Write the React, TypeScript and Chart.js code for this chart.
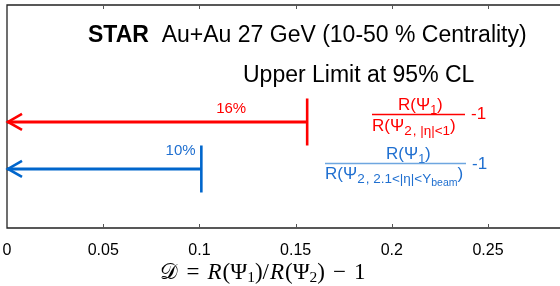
import React, { useEffect, useRef } from 'react';
import { Chart, registerables } from 'chart.js';

Chart.register(...registerables);

// ---- data ----
const xTicks = [0, 0.05, 0.1, 0.15, 0.2, 0.25];
const xMin = 0;
const xMax = 0.2874;
const seriesNames = ['R(Ψ1)/R(Ψ2, |η|<1) -1', 'R(Ψ1)/R(Ψ2, 2.1<|η|<Ybeam) -1'];
const upperLimits = [0.156, 0.101];
const limitLabels = ['16%', '10%'];
const rows = [2, 1];
const lineColors = ['#ff0000', '#0066cc'];
const textColors = ['#ff0000', '#1f6fd0'];
const titleBold = 'STAR';
const titleRest = 'Au+Au 27 GeV (10-50 % Centrality)';
const subtitle = 'Upper Limit at 95% CL';

const SANS = '"Liberation Sans", Arial, Helvetica, sans-serif';
const SERIF = '"Liberation Serif", "Times New Roman", serif';

type Part = { t: string; size: number; dy?: number; italic?: boolean; bold?: boolean; family?: string; gap?: number };

function drawRich(ctx: CanvasRenderingContext2D, x: number, y: number, parts: Part[], draw = true): number {
  let cx = x;
  for (const p of parts) {
    ctx.font = `${p.italic ? 'italic ' : ''}${p.bold ? 'bold ' : ''}${p.size}px ${p.family || SANS}`;
    if (draw) ctx.fillText(p.t, cx, y + (p.dy || 0));
    cx += ctx.measureText(p.t).width + (p.gap || 0);
  }
  return cx - x;
}

const decorPlugin = {
  id: 'decor',
  afterDatasetsDraw(chart: any) {
    const { ctx, chartArea } = chart;
    const xs = chart.scales.x;
    const ys = chart.scales.y;
    const { left, right, top, bottom } = chartArea;
    ctx.save();
    // frame
    ctx.strokeStyle = '#222';
    ctx.lineWidth = 1.3;
    ctx.beginPath();
    ctx.moveTo(right + 2, top);
    ctx.lineTo(left, top);
    ctx.lineTo(left, bottom);
    ctx.lineTo(right + 2, bottom);
    ctx.stroke();
    // inward ticks
    ctx.lineWidth = 1;
    ctx.strokeStyle = '#555';
    for (const v of xTicks) {
      if (v === xMin) continue;
      const px = Math.round(xs.getPixelForValue(v)) + 0.5;
      ctx.beginPath();
      ctx.moveTo(px, bottom);
      ctx.lineTo(px, bottom - 4);
      ctx.moveTo(px, top);
      ctx.lineTo(px, top + 4);
      ctx.stroke();
    }
    // arrowheads
    rows.forEach((r, i) => {
      const x0 = xs.getPixelForValue(xMin);
      const y0 = ys.getPixelForValue(r);
      ctx.strokeStyle = lineColors[i];
      ctx.lineWidth = 2.6;
      ctx.beginPath();
      ctx.moveTo(x0 + 15, y0 - 8);
      ctx.lineTo(x0 + 1, y0);
      ctx.lineTo(x0 + 15, y0 + 8);
      ctx.stroke();
    });
    // limit labels
    const labelX = [0.1165, 0.0902];
    const labelDy = [-9, -14];
    ctx.textAlign = 'center';
    ctx.textBaseline = 'alphabetic';
    rows.forEach((r, i) => {
      ctx.fillStyle = textColors[i];
      ctx.font = `15px ${SANS}`;
      ctx.fillText(limitLabels[i], xs.getPixelForValue(labelX[i]), ys.getPixelForValue(r) + labelDy[i]);
    });
    ctx.textAlign = 'left';
    // title
    ctx.fillStyle = '#000';
    drawRich(ctx, 88, 42, [
      { t: titleBold, size: 23, bold: true },
      { t: '  ' + titleRest, size: 23 },
    ]);
    ctx.font = `23px ${SANS}`;
    ctx.fillText(subtitle, 243, 82);

    // red formula
    ctx.fillStyle = textColors[0];
    drawRich(ctx, 398, 110, [
      { t: 'R(Ψ', size: 17 },
      { t: '1', size: 12.5, dy: 4 },
      { t: ')', size: 17 },
    ]);
    drawRich(ctx, 372, 131, [
      { t: 'R(Ψ', size: 17 },
      { t: '2', size: 13.5, dy: 4, gap: 1 },
      { t: ', |η|<1', size: 13.5, dy: 4 },
      { t: ')', size: 17 },
    ]);
    ctx.strokeStyle = lineColors[0];
    ctx.lineWidth = 1.5;
    ctx.beginPath();
    ctx.moveTo(372, 114.5);
    ctx.lineTo(465, 114.5);
    ctx.stroke();
    ctx.font = `17px ${SANS}`;
    ctx.fillText('-1', 471, 119);

    // blue formula
    ctx.fillStyle = textColors[1];
    drawRich(ctx, 386, 159, [
      { t: 'R(Ψ', size: 17 },
      { t: '1', size: 12.5, dy: 4 },
      { t: ')', size: 17 },
    ]);
    drawRich(ctx, 325, 179, [
      { t: 'R(Ψ', size: 17 },
      { t: '2', size: 13.5, dy: 4, gap: 1 },
      { t: ', 2.1<|η|<Y', size: 13.5, dy: 4 },
      { t: 'beam', size: 10.5, dy: 7 },
      { t: ')', size: 17 },
    ]);
    ctx.strokeStyle = '#6ea6e0';
    ctx.lineWidth = 1.5;
    ctx.beginPath();
    ctx.moveTo(325, 163.5);
    ctx.lineTo(466, 163.5);
    ctx.stroke();
    ctx.font = `17px ${SANS}`;
    ctx.fillText('-1', 472, 169);

    // x-axis title
    ctx.fillStyle = '#000';
    const M = '"DejaVu Serif", ' + SERIF;
    const tparts: Part[] = [
      { t: '𝒟', size: 22, family: M, gap: 8 },
      { t: '=', size: 23, family: SERIF, gap: 8 },
      { t: 'R', size: 23, italic: true, family: SERIF, gap: 1 },
      { t: '(Ψ', size: 23, family: SERIF },
      { t: '1', size: 15.5, dy: 3, family: SERIF },
      { t: ')/', size: 23, family: SERIF, gap: 1 },
      { t: 'R', size: 23, italic: true, family: SERIF, gap: 1 },
      { t: '(Ψ', size: 23, family: SERIF },
      { t: '2', size: 15.5, dy: 3, family: SERIF },
      { t: ')', size: 23, family: SERIF, gap: 8 },
      { t: '−', size: 23, family: SERIF, gap: 8 },
      { t: '1', size: 23, family: SERIF },
    ];
    const w = drawRich(ctx, 0, 0, tparts, false);
    drawRich(ctx, 263 - w / 2, 279, tparts);
    ctx.restore();
  },
};

export default function App() {
  const ref = useRef<HTMLCanvasElement | null>(null);
  useEffect(() => {
    document.body.style.margin = '0';
    if (!ref.current) return;
    const datasets: any[] = [];
    rows.forEach((r, i) => {
      datasets.push({
        label: seriesNames[i],
        data: [
          { x: xMin, y: r },
          { x: upperLimits[i], y: r },
        ],
        borderColor: lineColors[i],
        borderWidth: 3,
        pointRadius: 0,
      });
      datasets.push({
        label: seriesNames[i] + ' limit',
        data: [
          { x: upperLimits[i], y: r - 0.5 },
          { x: upperLimits[i], y: r + 0.5 },
        ],
        borderColor: lineColors[i],
        borderWidth: 2.6,
        pointRadius: 0,
      });
    });
    const chart = new Chart(ref.current, {
      type: 'line',
      data: { datasets },
      options: {
        animation: false,
        responsive: false,
        maintainAspectRatio: false,
        layout: { padding: { left: 7, top: 5, right: 0, bottom: 0 } },
        plugins: { legend: { display: false }, tooltip: { enabled: false }, title: { display: false } },
        scales: {
          x: {
            type: 'linear',
            min: xMin,
            max: xMax,
            grid: { display: false, drawTicks: false },
            border: { display: false },
            afterBuildTicks: (s: any) => {
              s.ticks = xTicks.map((v) => ({ value: v }));
            },
            afterFit: (s: any) => {
              s.height = 58;
              s.paddingLeft = 0;
              s.paddingRight = 0;
            },
            ticks: {
              color: '#000',
              padding: 13,
              maxRotation: 0,
              autoSkip: false,
              font: { family: SANS, size: 16 },
              callback: (v: any) => String(v),
            },
          },
          y: {
            type: 'linear',
            display: false,
            min: -0.2555,
            max: 4.489,
          },
        },
      },
      plugins: [decorPlugin],
    });
    return () => chart.destroy();
  }, []);
  return (
    <div style={{ position: 'fixed', left: 0, top: 0, width: 560, height: 286 }}>
      <canvas ref={ref} width={560} height={286} style={{ width: 560, height: 286, display: 'block' }} />
    </div>
  );
}
